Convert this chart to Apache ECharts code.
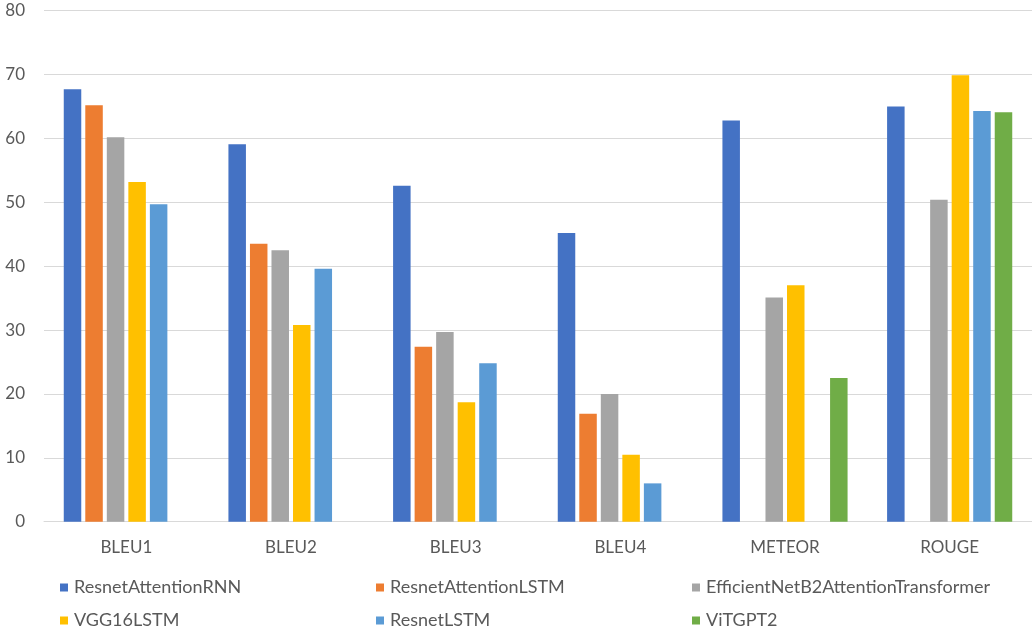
<!DOCTYPE html>
<html>
<head>
<meta charset="utf-8">
<script src="https://cdn.jsdelivr.net/npm/echarts@6/dist/echarts.min.js"></script>
<style>
  html, body { margin: 0; padding: 0; background: #fff; }
  #chart { width: 1032px; height: 637px; }
</style>
</head>
<body>
<div id="chart"></div>
<script>
// Caption-generation metrics per model
const categories = ['BLEU1', 'BLEU2', 'BLEU3', 'BLEU4', 'METEOR', 'ROUGE'];
const resnetAttentionRNN = [67.7, 59.1, 52.6, 45.2, 62.8, 65.0];
const resnetAttentionLSTM = [65.2, 43.5, 27.4, 16.9, null, null];
const efficientNetB2AttentionTransformer = [60.2, 42.5, 29.7, 20.0, 35.1, 50.4];
const vgg16LSTM = [53.2, 30.8, 18.7, 10.5, 37.0, 69.9];
const resnetLSTM = [49.7, 39.6, 24.8, 6.0, null, 64.3];
const viTGPT2 = [null, null, null, null, 22.5, 64.1];
const yTicks = [0, 10, 20, 30, 40, 50, 60, 70, 80];

const seriesDefs = [
  { name: 'ResnetAttentionRNN', data: resnetAttentionRNN, color: '#4472C4' },
  { name: 'ResnetAttentionLSTM', data: resnetAttentionLSTM, color: '#ED7D31' },
  { name: 'EfficientNetB2AttentionTransformer', data: efficientNetB2AttentionTransformer, color: '#A5A5A5' },
  { name: 'VGG16LSTM', data: vgg16LSTM, color: '#FFC000' },
  { name: 'ResnetLSTM', data: resnetLSTM, color: '#5B9BD5' },
  { name: 'ViTGPT2', data: viTGPT2, color: '#70AD47' }
];

const FONT = 'Lato, "Noto Sans", sans-serif';
const TEXT = '#595959';

// Three two-row legend columns under the plot
function legendColumn(names, left) {
  return {
    data: names,
    orient: 'vertical',
    left: left,
    top: 578,
    height: 59,
    padding: 0,
    itemWidth: 8,
    itemHeight: 8,
    itemGap: 14,
    icon: 'rect',
    selectedMode: false,
    textStyle: { color: TEXT, fontSize: 18, fontFamily: FONT, lineHeight: 19, padding: [0, 0, 0, 1] }
  };
}

const chart = echarts.init(document.getElementById('chart'), null, { renderer: 'canvas' });
chart.setOption({
  animation: false,
  backgroundColor: '#fff',
  grid: { left: 44, right: -5, top: 10.7, bottom: 115.3, containLabel: false },
  legend: [
    legendColumn([seriesDefs[0].name, seriesDefs[3].name], 60),
    legendColumn([seriesDefs[1].name, seriesDefs[4].name], 376),
    legendColumn([seriesDefs[2].name, seriesDefs[5].name], 692)
  ],
  xAxis: {
    type: 'category',
    data: categories,
    axisLine: { lineStyle: { color: '#d9d9d9', width: 1 } },
    axisTick: { show: false },
    axisLabel: { color: TEXT, fontSize: 17, fontFamily: FONT, margin: 17 }
  },
  yAxis: {
    type: 'value',
    min: yTicks[0],
    max: yTicks[yTicks.length - 1],
    interval: 10,
    axisLine: { show: false },
    axisTick: { show: false },
    axisLabel: { color: TEXT, fontSize: 17, fontFamily: FONT, margin: 19 },
    splitLine: { lineStyle: { color: '#d9d9d9', width: 1 } }
  },
  series: seriesDefs.map(s => ({
    name: s.name,
    type: 'bar',
    data: s.data,
    itemStyle: { color: s.color },
    barGap: '23%',
    barCategoryGap: '24%'
  }))
});
</script>
</body>
</html>
